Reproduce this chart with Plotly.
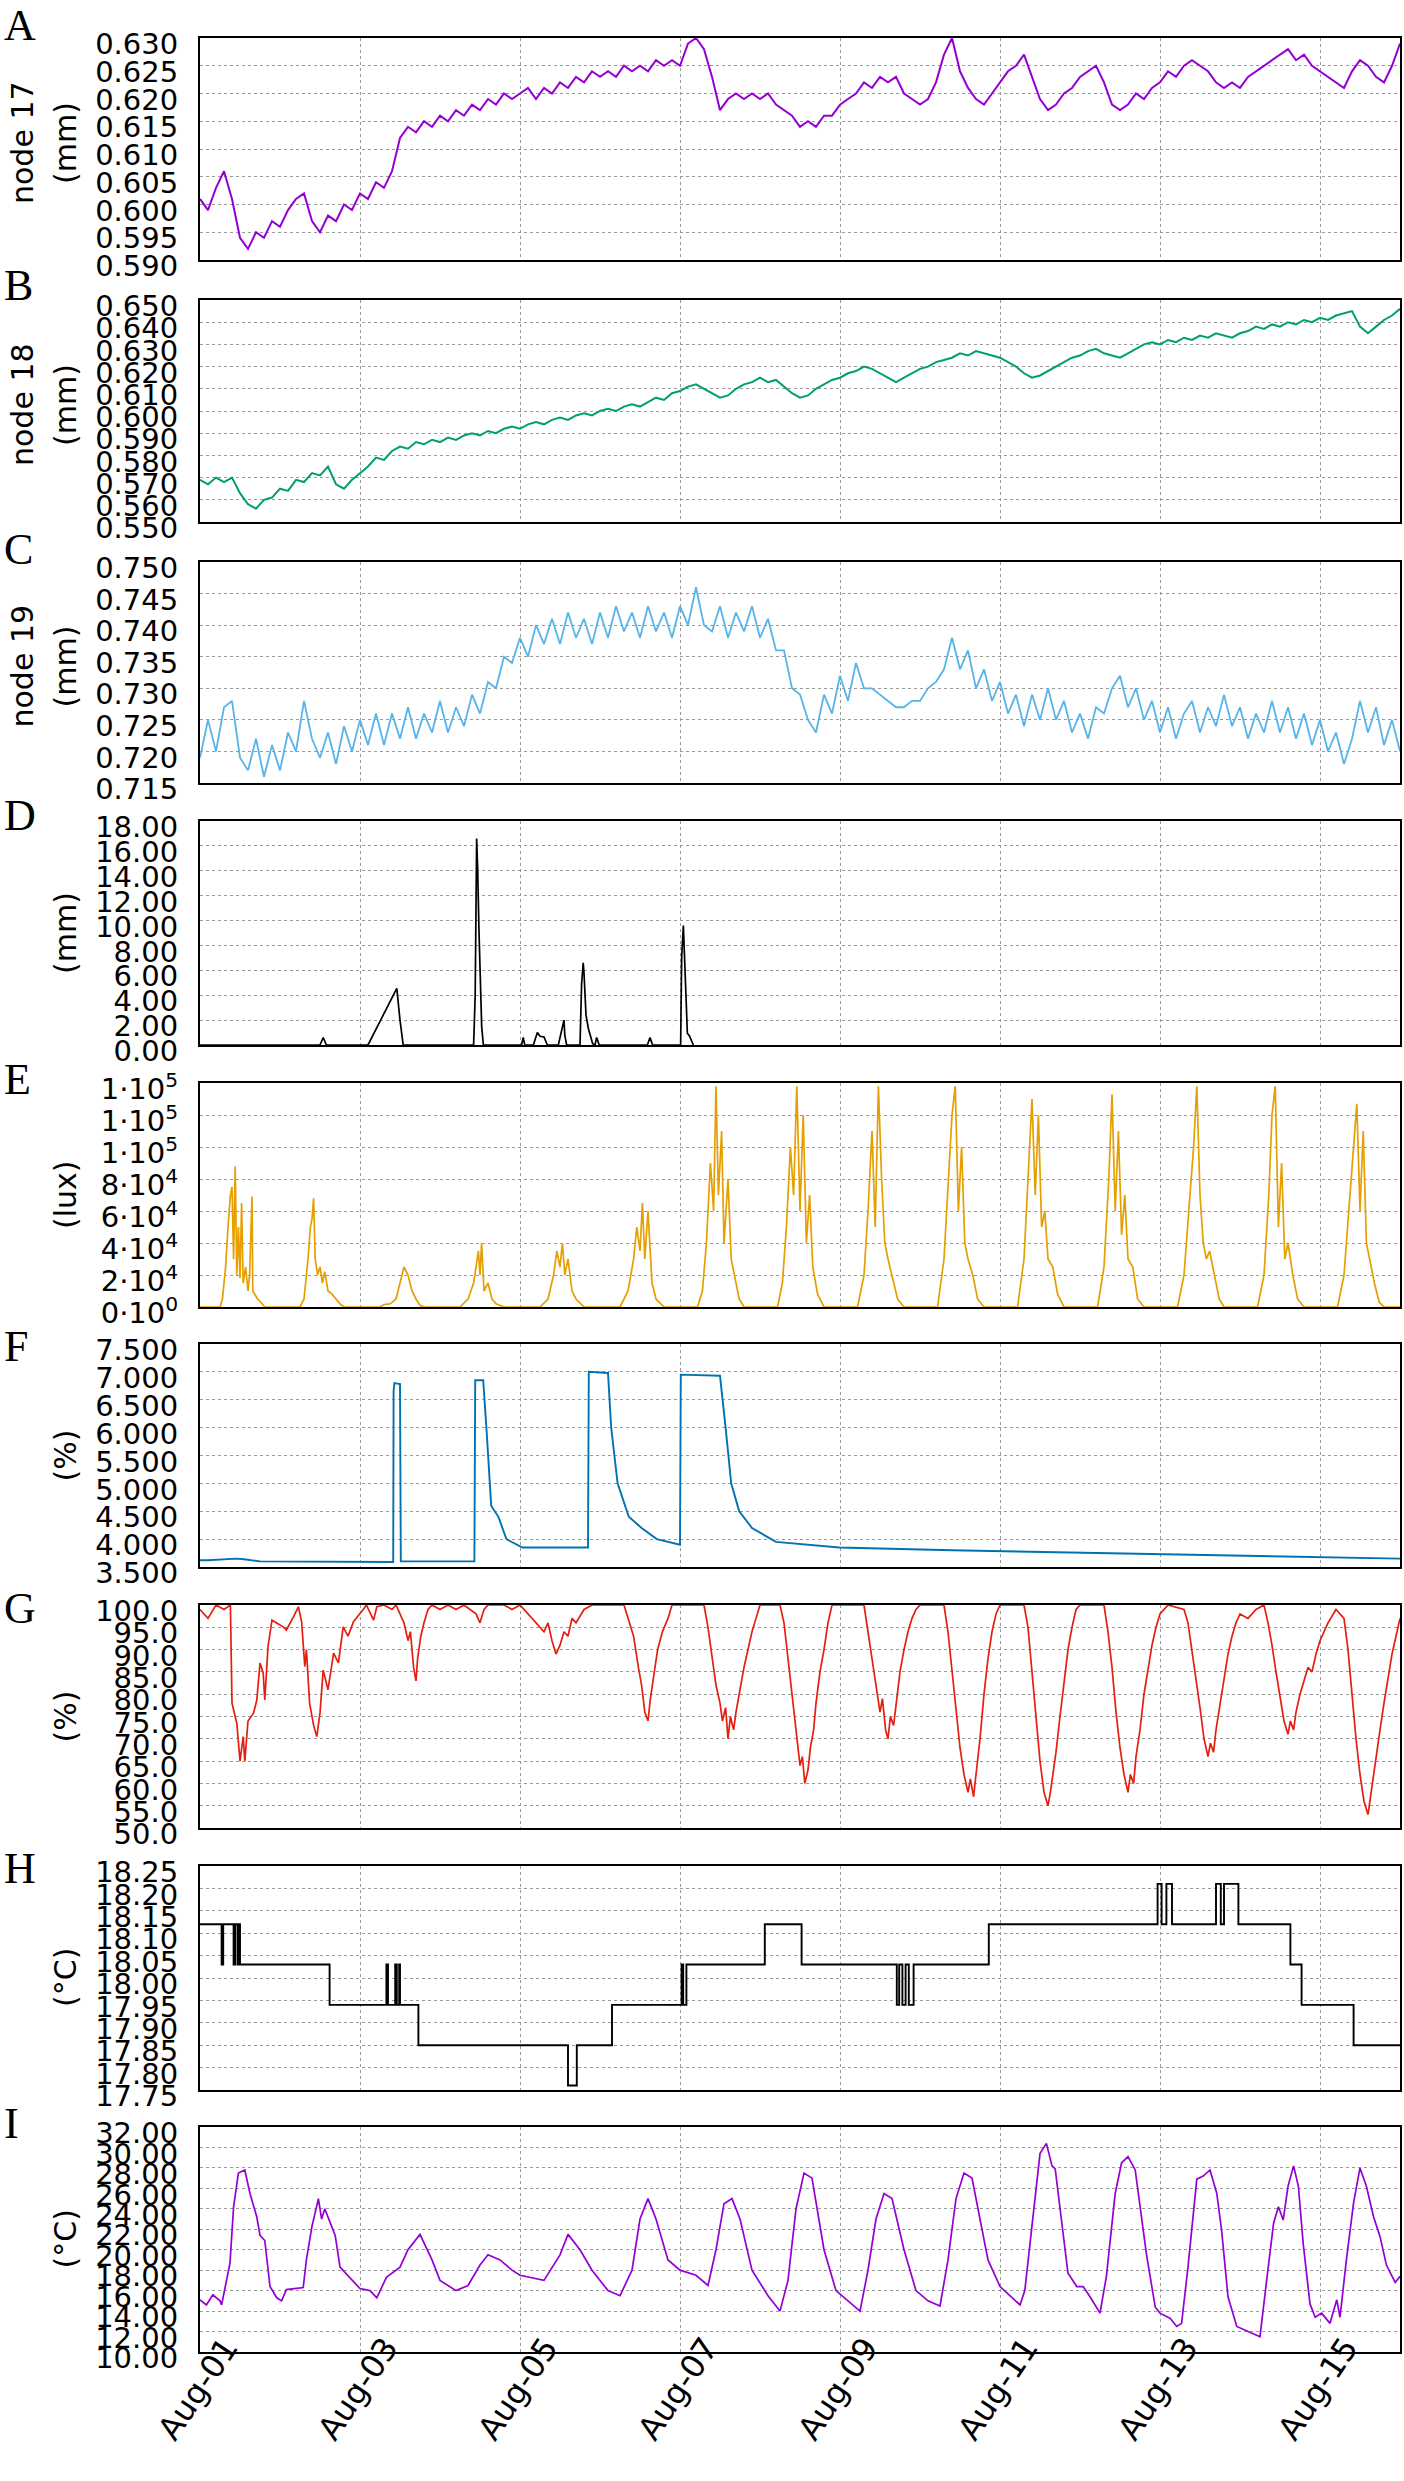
import pandas as pd
import plotly.graph_objects as go

W, H = 1404, 2481
START = pd.Timestamp("2019-08-01")

# ---- data: time in days after Aug-01 00:00 ----
# nodes 17-19 are sampled on a regular 0.1 day grid
grid_days = [round(0.1 * k, 1) for k in range(151)]

a_vals = [0.601, 0.599, 0.603, 0.606, 0.601, 0.594, 0.592, 0.595, 0.594, 0.597, 0.596, 0.599, 0.601,
          0.602, 0.597, 0.595, 0.598, 0.597, 0.600, 0.599, 0.602, 0.601, 0.604, 0.603, 0.606, 0.612,
          0.614, 0.613, 0.615, 0.614, 0.616, 0.615, 0.617, 0.616, 0.618, 0.617, 0.619, 0.618, 0.620,
          0.619, 0.620, 0.621, 0.619, 0.621, 0.620, 0.622, 0.621, 0.623, 0.622, 0.624, 0.623, 0.624,
          0.623, 0.625, 0.624, 0.625, 0.624, 0.626, 0.625, 0.626, 0.625, 0.629, 0.630, 0.628, 0.623,
          0.617, 0.619, 0.620, 0.619, 0.620, 0.619, 0.620, 0.618, 0.617, 0.616, 0.614, 0.615, 0.614,
          0.616, 0.616, 0.618, 0.619, 0.620, 0.622, 0.621, 0.623, 0.622, 0.623, 0.620, 0.619, 0.618,
          0.619, 0.622, 0.627, 0.630, 0.624, 0.621, 0.619, 0.618, 0.620, 0.622, 0.624, 0.625, 0.627,
          0.623, 0.619, 0.617, 0.618, 0.620, 0.621, 0.623, 0.624, 0.625, 0.622, 0.618, 0.617, 0.618,
          0.620, 0.619, 0.621, 0.622, 0.624, 0.623, 0.625, 0.626, 0.625, 0.624, 0.622, 0.621, 0.622,
          0.621, 0.623, 0.624, 0.625, 0.626, 0.627, 0.628, 0.626, 0.627, 0.625, 0.624, 0.623, 0.622,
          0.621, 0.624, 0.626, 0.625, 0.623, 0.622, 0.625, 0.629]

b_vals = [0.569, 0.567, 0.570, 0.568, 0.570, 0.563, 0.558, 0.556, 0.560, 0.561, 0.565, 0.564, 0.569,
          0.568, 0.572, 0.571, 0.575, 0.567, 0.565, 0.569, 0.572, 0.575, 0.579, 0.578, 0.582, 0.584,
          0.583, 0.586, 0.585, 0.587, 0.586, 0.588, 0.587, 0.589, 0.590, 0.589, 0.591, 0.590, 0.592,
          0.593, 0.592, 0.594, 0.595, 0.594, 0.596, 0.597, 0.596, 0.598, 0.599, 0.598, 0.600, 0.601,
          0.600, 0.602, 0.603, 0.602, 0.604, 0.606, 0.605, 0.608, 0.609, 0.611, 0.612, 0.610, 0.608,
          0.606, 0.607, 0.610, 0.612, 0.613, 0.615, 0.613, 0.614, 0.611, 0.608, 0.606, 0.607, 0.610,
          0.612, 0.614, 0.615, 0.617, 0.618, 0.620, 0.619, 0.617, 0.615, 0.613, 0.615, 0.617, 0.619,
          0.620, 0.622, 0.623, 0.624, 0.626, 0.625, 0.627, 0.626, 0.625, 0.624, 0.622, 0.620, 0.617,
          0.615, 0.616, 0.618, 0.620, 0.622, 0.624, 0.625, 0.627, 0.628, 0.626, 0.625, 0.624, 0.626,
          0.628, 0.630, 0.631, 0.630, 0.632, 0.631, 0.633, 0.632, 0.634, 0.633, 0.635, 0.634, 0.633,
          0.635, 0.636, 0.638, 0.637, 0.639, 0.638, 0.640, 0.639, 0.641, 0.640, 0.642, 0.641, 0.643,
          0.644, 0.645, 0.638, 0.635, 0.638, 0.641, 0.643, 0.646]

c_vals = [0.719, 0.725, 0.720, 0.727, 0.728, 0.719, 0.717, 0.722, 0.716, 0.721,
          0.717, 0.723, 0.720, 0.728, 0.722, 0.719, 0.723, 0.718, 0.724, 0.720,
          0.725, 0.721, 0.726, 0.721, 0.726, 0.722, 0.727, 0.722, 0.726, 0.723,
          0.728, 0.723, 0.727, 0.724, 0.729, 0.726, 0.731, 0.730, 0.735, 0.734,
          0.738, 0.735, 0.740, 0.737, 0.741, 0.737, 0.742, 0.738, 0.741, 0.737,
          0.742, 0.738, 0.743, 0.739, 0.742, 0.738, 0.743, 0.739, 0.742, 0.738,
          0.743, 0.740, 0.746, 0.740, 0.739, 0.743, 0.738, 0.742, 0.739, 0.743,
          0.738, 0.741, 0.736, 0.736, 0.730, 0.729, 0.725, 0.723, 0.729, 0.726,
          0.732, 0.728, 0.734, 0.730, 0.730, 0.729, 0.728, 0.727, 0.727, 0.728,
          0.728, 0.730, 0.731, 0.733, 0.738, 0.733, 0.736, 0.730, 0.733, 0.728,
          0.731, 0.726, 0.729, 0.724, 0.729, 0.725, 0.730, 0.725, 0.728, 0.723,
          0.726, 0.722, 0.727, 0.726, 0.730, 0.732, 0.727, 0.730, 0.725, 0.728,
          0.723, 0.727, 0.722, 0.726, 0.728, 0.723, 0.727, 0.724, 0.729, 0.724,
          0.727, 0.722, 0.726, 0.723, 0.728, 0.723, 0.727, 0.722, 0.726, 0.721,
          0.725, 0.720, 0.723, 0.718, 0.722, 0.728, 0.723, 0.727, 0.721, 0.725,
          0.720]

d_days = [0, 1.50, 1.54, 1.58, 2.10, 2.46, 2.50, 2.54, 3.42, 3.44, 3.458, 3.471, 3.487, 3.504, 3.521,
          3.542, 4.02, 4.04, 4.06, 4.167, 4.217, 4.25, 4.30, 4.342, 4.479, 4.55, 4.56, 4.583, 4.75,
          4.77, 4.79, 4.80, 4.825, 4.854, 4.908, 4.937, 4.958, 4.99, 5.592, 5.625, 5.658, 6.008,
          6.021, 6.042, 6.054, 6.075, 6.092, 6.117, 6.167]
d_vals = [0, 0, 0.6, 0, 0, 4.55, 2.0, 0, 0, 4.0, 16.6, 14.1, 9.2, 4.4, 1.5, 0, 0, 0.6, 0, 0, 1.0,
          0.7, 0.65, 0, 0, 2.0, 0.8, 0, 0, 4.9, 6.6, 5.8, 2.4, 1.35, 0.1, 0, 0.6, 0, 0, 0.6, 0, 0,
          7.1, 9.6, 7.4, 3.1, 0.95, 0.75, 0]

e_days = [0, 0.25, 0.28, 0.32, 0.35, 0.38, 0.40, 0.42, 0.44, 0.46, 0.48, 0.50, 0.52, 0.54, 0.57, 0.60,
          0.62, 0.65, 0.66, 0.68, 0.72, 0.76, 0.81,
          1.25, 1.30, 1.35, 1.38, 1.40, 1.42, 1.44, 1.47, 1.50, 1.53, 1.56, 1.60, 1.65, 1.70, 1.75, 1.80,
          2.25, 2.30, 2.38, 2.45, 2.50, 2.55, 2.60, 2.65, 2.70, 2.75, 2.80,
          3.25, 3.35, 3.42, 3.48, 3.50, 3.52, 3.55, 3.60, 3.65, 3.70, 3.80,
          4.25, 4.35, 4.42, 4.46, 4.50, 4.53, 4.56, 4.60, 4.65, 4.70, 4.80,
          5.25, 5.35, 5.42, 5.46, 5.50, 5.53, 5.56, 5.60, 5.65, 5.70, 5.80,
          6.22, 6.28, 6.33, 6.38, 6.42, 6.45, 6.48, 6.52, 6.55, 6.60, 6.64, 6.68, 6.74, 6.80,
          7.22, 7.28, 7.33, 7.38, 7.42, 7.46, 7.50, 7.54, 7.58, 7.62, 7.66, 7.72, 7.80,
          8.22, 8.30, 8.35, 8.40, 8.44, 8.48, 8.52, 8.56, 8.60, 8.65, 8.72, 8.80,
          9.22, 9.30, 9.36, 9.40, 9.44, 9.48, 9.52, 9.56, 9.60, 9.66, 9.72, 9.80,
          10.22, 10.30, 10.36, 10.40, 10.44, 10.48, 10.52, 10.56, 10.60, 10.66, 10.72, 10.80,
          11.22, 11.30, 11.36, 11.40, 11.44, 11.48, 11.52, 11.56, 11.60, 11.66, 11.72, 11.80,
          12.22, 12.30, 12.36, 12.42, 12.46, 12.50, 12.54, 12.58, 12.62, 12.68, 12.74, 12.80,
          13.22, 13.30, 13.36, 13.40, 13.44, 13.48, 13.52, 13.56, 13.60, 13.66, 13.72, 13.80,
          14.22, 14.30, 14.36, 14.42, 14.46, 14.50, 14.54, 14.58, 14.62, 14.68, 14.74, 14.80, 15.0]
e_vals = [0, 0, 5e3, 25e3, 50e3, 70e3, 75e3, 30e3, 88e3, 20e3, 50e3, 18e3, 65e3, 15e3, 25e3, 10e3,
          20e3, 69e3, 10e3, 8e3, 5e3, 3e3, 0,
          0, 5e3, 30e3, 50e3, 55e3, 68e3, 30e3, 20e3, 25e3, 15e3, 22e3, 10e3, 8e3, 5e3, 2e3, 0,
          0, 1.5e3, 2e3, 5e3, 15e3, 25e3, 20e3, 10e3, 5e3, 1e3, 0,
          0, 5e3, 15e3, 35e3, 20e3, 40e3, 10e3, 15e3, 5e3, 2e3, 0,
          0, 5e3, 20e3, 35e3, 25e3, 40e3, 20e3, 30e3, 10e3, 5e3, 0,
          0, 10e3, 30e3, 50e3, 35e3, 65e3, 30e3, 60e3, 15e3, 5e3, 0,
          0, 10e3, 40e3, 90e3, 60e3, 138e3, 70e3, 110e3, 40e3, 80e3, 30e3, 20e3, 5e3, 0,
          0, 15e3, 50e3, 100e3, 70e3, 138e3, 60e3, 120e3, 40e3, 70e3, 25e3, 8e3, 0,
          0, 20e3, 60e3, 110e3, 50e3, 138e3, 80e3, 40e3, 30e3, 20e3, 5e3, 0,
          0, 30e3, 80e3, 120e3, 138e3, 60e3, 100e3, 40e3, 30e3, 20e3, 5e3, 0,
          0, 30e3, 90e3, 130e3, 70e3, 120e3, 50e3, 60e3, 30e3, 25e3, 8e3, 0,
          0, 25e3, 80e3, 133e3, 60e3, 110e3, 45e3, 70e3, 30e3, 25e3, 5e3, 0,
          0, 20e3, 60e3, 100e3, 138e3, 70e3, 40e3, 30e3, 35e3, 20e3, 5e3, 0,
          0, 20e3, 70e3, 120e3, 138e3, 50e3, 90e3, 30e3, 40e3, 20e3, 5e3, 0,
          0, 20e3, 60e3, 100e3, 127e3, 60e3, 110e3, 40e3, 30e3, 15e3, 3e3, 0, 0]

f_days = [0, 0.1, 0.45, 0.55, 0.75, 1.0, 1.5, 2.0, 2.415, 2.42, 2.43, 2.50, 2.51, 3.0, 3.43, 3.44,
          3.54, 3.58, 3.64, 3.73, 3.83, 4.03, 4.5, 4.85, 4.86, 5.10, 5.14, 5.22, 5.36, 5.52, 5.71,
          5.97, 6.00, 6.01, 6.50, 6.57, 6.64, 6.74, 6.90, 7.20, 7.99, 9.4, 11.35, 13.3, 15.0]
f_vals = [3.62, 3.62, 3.65, 3.64, 3.60, 3.60, 3.60, 3.59, 3.59, 6.65, 6.80, 6.78, 3.60, 3.60, 3.60,
          6.85, 6.85, 6.0, 4.6, 4.4, 4.0, 3.85, 3.85, 3.85, 7.0, 6.98, 6.0, 5.0, 4.4, 4.2, 4.0, 3.9,
          3.9, 6.95, 6.93, 6.0, 5.0, 4.5, 4.2, 3.95, 3.85, 3.80, 3.75, 3.70, 3.65]

g_days = [0, 0.1, 0.2, 0.3, 0.38, 0.40, 0.46, 0.50, 0.54, 0.56, 0.60, 0.67, 0.71, 0.75, 0.79, 0.81,
          0.85, 0.90, 1.04, 1.08, 1.17, 1.23, 1.27, 1.31, 1.33, 1.37, 1.42, 1.46, 1.50, 1.54, 1.60,
          1.67, 1.73, 1.79, 1.85, 1.92, 2.04, 2.08, 2.17, 2.21,
          2.3, 2.4, 2.45, 2.5, 2.55, 2.6, 2.63, 2.67, 2.7, 2.72, 2.76, 2.8, 2.85, 2.9, 3.0, 3.1, 3.2,
          3.3, 3.45, 3.5, 3.55, 3.6, 3.8, 3.9, 4.0, 4.1, 4.2, 4.3, 4.35, 4.4, 4.45, 4.5, 4.55, 4.6,
          4.65, 4.7, 4.8, 4.9, 5.3, 5.35, 5.42, 5.48, 5.52, 5.56, 5.6, 5.63, 5.67, 5.72, 5.78, 5.85,
          5.9, 6.3, 6.35, 6.4, 6.45, 6.5, 6.53, 6.57, 6.6, 6.63, 6.67, 6.7, 6.75, 6.8, 6.85, 6.9, 6.95,
          7.0, 7.25, 7.3, 7.35, 7.4, 7.43, 7.47, 7.5, 7.53, 7.56, 7.6, 7.63, 7.67, 7.7, 7.75, 7.8,
          7.85, 7.9, 8.3, 8.35, 8.4, 8.45, 8.5, 8.53, 8.57, 8.6, 8.63, 8.67, 8.7, 8.75, 8.8, 8.85,
          8.9, 8.95, 9.0, 9.3, 9.35, 9.4, 9.45, 9.5, 9.55, 9.6, 9.63, 9.67, 9.7, 9.75, 9.8, 9.85, 9.9,
          9.95, 10.0, 10.3, 10.35, 10.4, 10.45, 10.5, 10.55, 10.6, 10.63, 10.67, 10.7, 10.75, 10.8,
          10.85, 10.9, 10.95, 11.0, 11.3, 11.35, 11.4, 11.45, 11.5, 11.55, 11.6, 11.63, 11.67, 11.7,
          11.75, 11.8, 11.85, 11.9, 11.95, 12.0, 12.1, 12.3, 12.35, 12.4, 12.45, 12.5, 12.55, 12.6,
          12.63, 12.67, 12.7, 12.75, 12.8, 12.85, 12.9, 12.95, 13.0, 13.1, 13.2, 13.3, 13.35, 13.4,
          13.45, 13.5, 13.55, 13.6, 13.63, 13.67, 13.7, 13.75, 13.8, 13.85, 13.9, 13.95, 14.0, 14.05,
          14.1, 14.2, 14.3, 14.35, 14.4, 14.45, 14.5, 14.55, 14.6, 14.63, 14.67, 14.7, 14.75, 14.8,
          14.85, 14.9, 14.95, 15.0]
g_vals = [99, 97, 100, 99, 100, 78, 73.5, 65, 70.5, 65, 74, 75.8, 78.7, 87, 84.7, 78.7, 90.7, 96.6,
          95.1, 94.4, 97.4, 99.6, 96.3, 86.2, 90, 78, 73, 70.5, 75.8, 85.4, 81, 89.2, 87, 95.1, 93,
          96.3, 99, 100, 96.6, 99.6,
          100, 99, 100, 98, 96, 92, 94, 86, 83, 88, 93, 96, 99, 100, 99, 100, 99,
          100, 98, 96, 99, 100, 100, 99, 100, 98, 96, 94, 96, 92, 89, 91, 94, 93,
          97, 96, 99, 100, 100, 97, 93, 86, 82, 76, 74, 79, 84, 90, 94, 97,
          100, 100, 95, 88, 82, 78, 74, 77, 70, 75, 72, 76, 81, 86, 90, 94, 97,
          100, 100, 96, 88, 80, 74, 68, 64, 66, 60, 63, 68, 72, 78, 85, 90,
          96, 100, 100, 94, 88, 82, 76, 79, 72, 70, 75, 73, 78, 85, 90, 94,
          97, 99, 100, 100, 94, 85, 76, 68, 62, 58, 61, 57, 62, 70, 80, 88, 94,
          98, 100, 100, 95, 85, 74, 65, 58, 55, 58, 63, 67, 75, 83,
          90, 95, 99, 100, 100, 94, 86, 76, 68, 62, 58, 62, 60, 66,
          72, 80, 86, 91, 95, 98, 100, 99, 96, 90, 84, 77, 70, 66,
          69, 67, 72, 78, 84, 89, 93, 96, 98, 97, 99, 100, 96, 91,
          85, 79, 74, 71, 74, 72, 76, 80, 83, 86, 85, 89, 92, 94,
          96, 99, 97, 90, 80, 70, 62, 56, 53, 57, 62, 66, 72, 78,
          84, 89, 93, 97]

h_days = [0, 0.27, 0.29, 0.42, 0.44, 0.47, 0.48, 0.50, 1.62, 2.33, 2.35, 2.44, 2.46, 2.49, 2.50, 2.73,
          4.60, 4.71, 5.15, 6.02, 6.04, 6.08, 7.06, 7.52, 8.71, 8.74, 8.78, 8.82, 8.86, 8.92, 9.86,
          11.97, 12.02, 12.08, 12.15, 12.70, 12.76, 12.80, 12.98, 13.63, 13.77, 14.42, 15.0]
h_vals = [18.12, 18.03, 18.12, 18.03, 18.12, 18.03, 18.12, 18.03, 17.94, 18.03, 17.94, 18.03, 17.94,
          18.03, 17.94, 17.85, 17.76, 17.85, 17.94, 18.03, 17.94, 18.03, 18.12, 18.03, 17.94, 18.03,
          17.94, 18.03, 17.94, 18.03, 18.12, 18.21, 18.12, 18.21, 18.12, 18.21, 18.12, 18.21, 18.12,
          18.03, 17.94, 17.85, 17.85]

i_days = [0, 0.08, 0.16, 0.25, 0.27, 0.375, 0.42, 0.48, 0.56, 0.625, 0.71, 0.75, 0.81, 0.875, 0.96,
          1.02, 1.08, 1.17, 1.29, 1.33, 1.40, 1.48, 1.52, 1.56, 1.625, 1.69, 1.75, 1.875, 2.0, 2.125,
          2.21, 2.33, 2.5, 2.6, 2.75, 2.9, 3.0, 3.2, 3.35, 3.5, 3.6, 3.75, 3.9, 4.0, 4.3, 4.5, 4.6,
          4.75, 4.9, 5.1, 5.25, 5.4, 5.5, 5.6, 5.7, 5.85, 6.0, 6.2, 6.35, 6.45, 6.55, 6.65, 6.75, 6.9,
          7.1, 7.25, 7.35, 7.45, 7.55, 7.65, 7.8, 7.95, 8.1, 8.25, 8.35, 8.45, 8.55, 8.65, 8.8, 8.95,
          9.1, 9.25, 9.35, 9.45, 9.55, 9.65, 9.75, 9.85, 10.0, 10.25, 10.31, 10.42, 10.5, 10.58, 10.65,
          10.69, 10.75, 10.85, 10.96, 11.04, 11.125, 11.25, 11.33, 11.44, 11.52, 11.6, 11.69, 11.75,
          11.83, 11.94, 12.0, 12.125, 12.21, 12.27, 12.35, 12.46, 12.54, 12.625, 12.71, 12.77, 12.85,
          12.96, 13.1, 13.25, 13.33, 13.42, 13.48, 13.54, 13.6, 13.67, 13.73, 13.79, 13.875, 13.94,
          14.02, 14.125, 14.21, 14.25, 14.33, 14.42, 14.5, 14.58, 14.67, 14.75, 14.83, 14.94, 15.0]
i_vals = [15.1, 14.6, 15.6, 15.0, 14.6, 18.7, 24.2, 27.5, 27.8, 25.5, 23.2, 21.4, 20.9, 16.4, 15.3,
          15.0, 16.1, 16.2, 16.3, 19.0, 22.3, 25.0, 23.0, 24.0, 22.6, 21.4, 18.3, 17.3, 16.2, 16.0,
          15.3, 17.3, 18.3, 20.0, 21.5, 19.0, 17.0, 16.0, 16.5, 18.5, 19.5, 19.0, 18.0, 17.5, 17.0,
          19.5, 21.5, 20.0, 18.0, 16.0, 15.5, 18.0, 23.0, 25.0, 23.0, 19.0, 18.0, 17.5, 16.5, 20.0,
          24.5, 25.0, 23.0, 18.0, 15.5, 14.0, 17.0, 24.0, 27.5, 27.0, 20.0, 16.0, 15.0, 14.0, 18.0,
          23.0, 25.5, 25.0, 20.0, 16.0, 15.0, 14.5, 19.0, 25.0, 27.5, 27.0, 23.0, 19.0, 16.4, 14.6,
          16.0, 23.9, 29.4, 30.4, 28.2, 27.9, 24.2, 17.7, 16.4, 16.4, 15.4, 13.8, 17.4, 25.5, 28.5,
          29.1, 27.8, 24.2, 19.6, 14.4, 13.8, 13.3, 12.5, 12.8, 18.3, 26.9, 27.2, 27.8, 25.5, 21.9,
          15.4, 12.5, 12.0, 11.5, 16.8, 22.6, 24.2, 22.9, 26.2, 28.2, 26.2, 20.6, 14.7, 13.4, 13.8,
          12.8, 15.1, 13.4, 19.0, 24.6, 28.0, 26.2, 23.2, 21.3, 18.5, 16.8, 17.4]

lux_ticks = [0, 2e4, 4e4, 6e4, 8e4, 1e5, 1.2e5, 1.4e5]
lux_labels = ["0·10<sup>0</sup>", "2·10<sup>4</sup>", "4·10<sup>4</sup>", "6·10<sup>4</sup>",
              "8·10<sup>4</sup>", "1·10<sup>5</sup>", "1·10<sup>5</sup>", "1·10<sup>5</sup>"]

# letter, title lines, days, values, colour, y range, dtick, tick format, line shape, width
PANELS = [
    ("A", ["node 17", "(mm)"], grid_days, a_vals, "#9400d3", [0.590, 0.630], 0.005, ".3f", "linear", 2.0),
    ("B", ["node 18", "(mm)"], grid_days, b_vals, "#009e73", [0.550, 0.650], 0.01, ".3f", "linear", 2.0),
    ("C", ["node 19", "(mm)"], grid_days, c_vals, "#56b4e9", [0.715, 0.750], 0.005, ".3f", "linear", 1.8),
    ("D", ["(mm)"], d_days, d_vals, "#000000", [0, 18], 2, ".2f", "linear", 1.7),
    ("E", ["(lux)"], e_days, e_vals, "#e69f00", [0, 1.4e5], 2e4, None, "linear", 1.7),
    ("F", ["(%)"], f_days, f_vals, "#0072b2", [3.5, 7.5], 0.5, ".3f", "linear", 1.9),
    ("G", ["(%)"], g_days, g_vals, "#e51e10", [50, 100], 5, ".1f", "linear", 1.7),
    ("H", ["(°C)"], h_days, h_vals, "#000000", [17.75, 18.25], 0.05, ".2f", "hv", 1.9),
    ("I", ["(°C)"], i_days, i_vals, "#9400d3", [10, 32], 2, ".2f", "linear", 1.7),
]

# pixel geometry of the panels (top, bottom) and letter centres
BOXES = [(38, 260), (300, 522), (562, 783), (821, 1045), (1083, 1307),
         (1344, 1567), (1605, 1828), (1866, 2090), (2127, 2352)]
LETTER_Y = [25, 285, 550, 815, 1079, 1346, 1609, 1868, 2123]
X0, X1 = 200, 1400

SANS = "DejaVu Sans"
SERIF = "Liberation Serif"


def to_time(days):
    return START + pd.to_timedelta(pd.Series(days), unit="D")


fig = go.Figure()
annotations = []
layout = {}

for i, (letter, title, days, vals, color, yrange, dtick, fmt, shape, lw) in enumerate(PANELS):
    n = i + 1
    xname, yname = f"x{n}", f"y{n}"
    top, bot = BOXES[i]
    fig.add_trace(go.Scatter(
        x=to_time(days), y=vals, mode="lines", xaxis=xname, yaxis=yname,
        line={"color": color, "width": lw, "shape": shape}, showlegend=False,
    ))
    last = i == len(PANELS) - 1
    layout[f"xaxis{n}"] = dict(
        domain=[X0 / W, X1 / W], anchor=yname, automargin=False,
        range=[START, START + pd.Timedelta(days=15)],
        tick0=START, dtick=2 * 86400000, tickformat="%b-%d",
        showticklabels=last, tickangle=-56, ticklabelshift=26, ticklabelstandoff=-38,
        tickfont={"family": SANS, "size": 32, "color": "black"},
        showgrid=True, gridcolor="#9a9a9a", gridwidth=1.4, griddash="dot",
        showline=True, linecolor="black", linewidth=2, mirror=True, ticks="",
        zeroline=False,
    )
    yax = dict(
        domain=[(H - bot) / H, (H - top) / H], anchor=xname, automargin=False,
        range=yrange, tick0=yrange[0], dtick=dtick,
        tickfont={"family": SANS, "size": 29, "color": "black"},
        ticklabelshift=6, ticklabelstandoff=14,
        showgrid=True, gridcolor="#9a9a9a", gridwidth=1.4, griddash="dot",
        showline=True, linecolor="black", linewidth=2, mirror=True, ticks="",
        zeroline=False,
    )
    if fmt:
        yax["tickformat"] = fmt
    else:
        yax["tickmode"] = "array"
        yax["tickvals"] = lux_ticks
        yax["ticktext"] = lux_labels
    layout[f"yaxis{n}"] = yax

    annotations.append(dict(
        text=letter, x=2 / W, y=1 - LETTER_Y[i] / H, xref="paper", yref="paper",
        xanchor="left", yanchor="middle", showarrow=False,
        font={"family": SERIF, "size": 44, "color": "black"},
    ))
    mid = (top + bot) / 2
    if len(title) == 2:
        spots = [(22, mid - 6), (65, mid - 6)]
    else:
        spots = [(65, mid)]
    for txt, (px, py) in zip(title, spots):
        annotations.append(dict(
            text=txt, x=px / W, y=1 - py / H, xref="paper", yref="paper",
            xanchor="center", yanchor="middle", textangle=-90, showarrow=False,
            font={"family": SANS, "size": 30, "color": "black"},
        ))

fig.update_layout(
    width=W, height=H, margin={"l": 0, "r": 0, "t": 0, "b": 0},
    paper_bgcolor="white", plot_bgcolor="white",
    annotations=annotations, **layout,
)

fig.write_html("out.html", config={"displayModeBar": False},
               post_script="document.body.style.margin='0';")
